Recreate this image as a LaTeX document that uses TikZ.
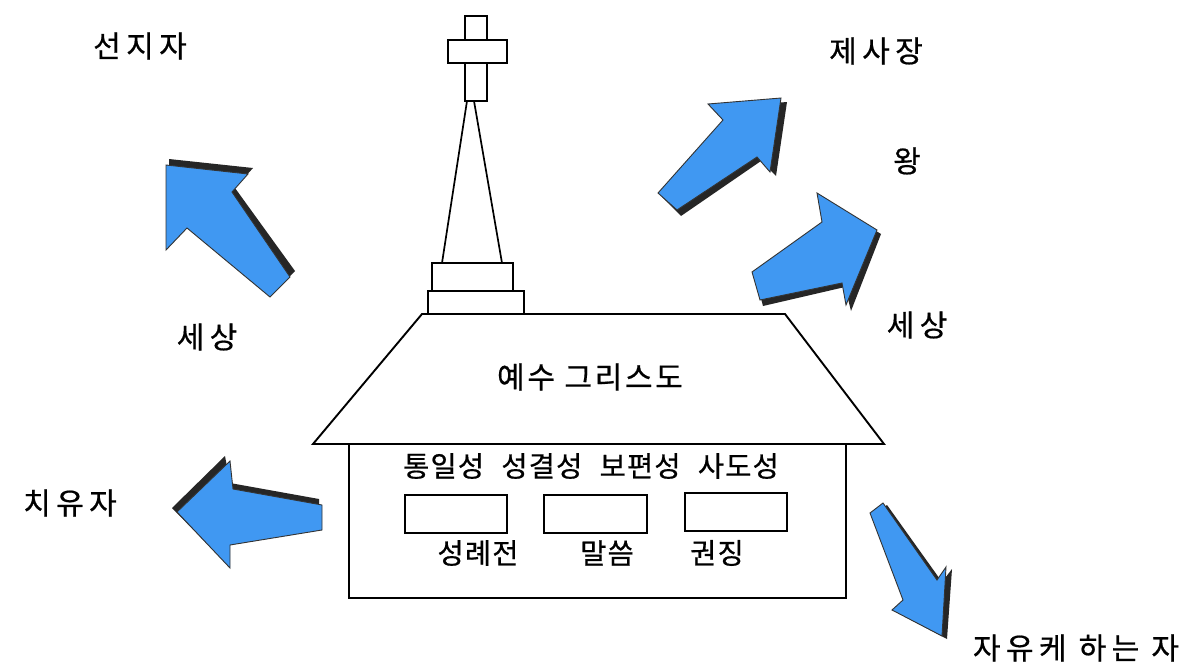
\documentclass[tikz,border=0pt]{standalone}
\usepackage{fontspec}
\newfontfamily\krlabel[LetterSpace=18,FakeBold=0.6]{Noto Sans CJK KR}
\newfontfamily\krtext[LetterSpace=4,WordSpace=2.3,FakeBold=0.6]{Noto Sans CJK KR}
\newfontfamily\krtitle[LetterSpace=9,FakeBold=0.6]{Noto Sans CJK KR}
\definecolor{arrowblue}{RGB}{64,152,242}
\begin{document}
\begin{tikzpicture}[x=1pt,y=-1pt,
  outline/.style={draw=black,line width=1.9pt,fill=white},
  thinbox/.style={draw=black,line width=1.7pt},
  bigarrow/.style={fill=arrowblue,draw=black!80,line width=0.9pt,line join=miter},
  arrowshade/.style={fill=black!85},
  outer/.style={font=\krlabel\fontsize{30}{34}\selectfont,inner sep=0pt},
  inner/.style={font=\krtext\fontsize{28.5}{32}\selectfont,inner sep=0pt},
  title/.style={font=\krtitle\fontsize{30}{34}\selectfont,inner sep=0pt}]
\useasboundingbox (0,0) rectangle (1202,669);
\fill[white] (0,0) rectangle (1202,669);

% church body and roof
\draw[outline] (349,444) rectangle (846,598);
\draw[outline,line join=miter] (422,314) -- (785,314) -- (884,444) -- (313,444) -- cycle;

% steeple: bases, spire and cross
\draw[outline] (428,291) rectangle (524,314);
\draw[outline] (432,263) rectangle (513,291);
\draw[black,line width=1.7pt] (467,101) -- (442,263);
\draw[black,line width=1.7pt] (474,101) -- (502,263);
\draw[outline] (465,16) rectangle (487,101);
\draw[outline] (448,40) rectangle (507,63);

% three small boxes
\draw[thinbox] (405,495) rectangle (507,533);
\draw[thinbox] (544,495) rectangle (647,533);
\draw[thinbox] (685,493) rectangle (787,531);

% texts inside the church
\node[title] (christ) at (590,377) {예수 그리스도};
\node[inner] (marks) at (591,466) {통일성 성결성 보편성 사도성};
\node[inner] (sacr) at (478,553) {성례전};
\node[inner] (word) at (607,553) {말씀};
\node[inner] (disc) at (717,553) {권징};

% block arrows with dark side shading
% up-left arrow
\fill[arrowshade,shift={(3,-4)}] (166,163) -- (250,172) -- (232,192) -- (292,275) -- (270,297) -- (187,228) -- (166,250) -- cycle;
\draw[bigarrow] (166,165) -- (248,174) -- (232,192) -- (290,277) -- (270,297) -- (187,228) -- (166,250) -- cycle;
% upper right arrow
\fill[arrowshade,shift={(4,4)}] (658,193) -- (723,120) -- (708,104) -- (783,98) -- (772,172) -- (757,157) -- (677,212) -- cycle;
\draw[bigarrow] (658,193) -- (723,120) -- (708,104) -- (781,98) -- (770,172) -- (757,157) -- (677,210) -- cycle;
% lower right arrow
\fill[arrowshade,shift={(3,4)}] (752,272) -- (822,222) -- (817,193) -- (878,230) -- (848,307) -- (842,283) -- (760,302) -- cycle;
\draw[bigarrow] (752,272) -- (822,222) -- (817,193) -- (877,230) -- (846,305) -- (842,283) -- (760,300) -- cycle;
% left arrow
\fill[arrowshade,shift={(-3,-4)}] (175,512) -- (228,460) -- (233,487) -- (322,503) -- (322,530) -- (230,545) -- (230,568) -- cycle;
\draw[bigarrow] (177,512) -- (230,461) -- (233,489) -- (322,505) -- (322,530) -- (230,545) -- (230,568) -- cycle;
% down-right arrow
\fill[arrowshade,shift={(4,2)}] (870,513) -- (883,503) -- (938,580) -- (948,567) -- (943,637) -- (892,610) -- (903,600) -- cycle;
\draw[bigarrow] (870,513) -- (883,503) -- (937,580) -- (946,567) -- (942,636) -- (892,610) -- (903,600) -- cycle;

% outer labels
\node[outer] (prophet) at (140,46) {선지자};
\node[outer] (priest) at (876,51) {제사장};
\node[outer] (king) at (907,161) {왕};
\node[outer] (worldr) at (917,325) {세상};
\node[outer] (worldl) at (207,337) {세상};
\node[outer] (healer) at (70,503) {치유자};
\node[outer] (freer) at (1076,648) {자유케 하는 자};
\end{tikzpicture}
\end{document}
